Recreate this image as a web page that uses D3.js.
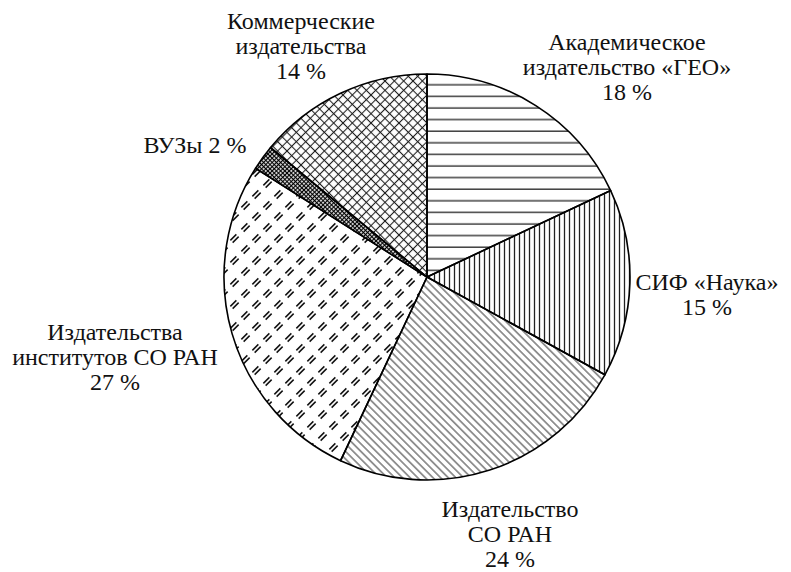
<!DOCTYPE html>
<html>
<head>
<meta charset="utf-8">
<script src="https://cdn.jsdelivr.net/npm/d3@7"></script>
<style>
  html, body { margin: 0; padding: 0; background: #fff; }
  svg { display: block; }
  .lbl { font-family: "Liberation Serif", "Times New Roman", serif; }
</style>
</head>
<body>
<svg id="chart" width="791" height="572"></svg>
<script>
// ---- data ----
const categories = [
  "Академическое издательство «ГЕО»",
  "СИФ «Наука»",
  "Издательство СО РАН",
  "Издательства институтов СО РАН",
  "ВУЗы",
  "Коммерческие издательства"
];
const values = [18, 15, 24, 27, 2, 14];
const labelLines = [
  ["Академическое", "издательство «ГЕО»", "18 %"],
  ["СИФ «Наука»", "15 %"],
  ["Издательство", "СО РАН", "24 %"],
  ["Издательства", "институтов СО РАН", "27 %"],
  ["ВУЗы 2 %"],
  ["Коммерческие", "издательства", "14 %"]
];

// ---- layout ----
const W = 791, H = 572;
const cx = 427, cy = 277, R = 203;
const lineH = 25;
// label anchor (center x, first baseline y)
const labelPos = [
  [627, 50],
  [707, 290],
  [510, 517],
  [115, 340],
  [195, 153],
  [301, 29]
];
const patternIds = ["horiz", "vert", "diag", "dashes", "checker", "cross"];

const svg = d3.select("#chart");
const defs = svg.append("defs");

// horizontal lines
const pH = defs.append("pattern").attr("id", "horiz").attr("patternUnits", "userSpaceOnUse")
  .attr("width", 10).attr("height", 11.6);
pH.append("line").attr("x1", 0).attr("x2", 10).attr("y1", 5).attr("y2", 5)
  .attr("stroke", "#222").attr("stroke-width", 1.3);

// vertical lines
const pV = defs.append("pattern").attr("id", "vert").attr("patternUnits", "userSpaceOnUse")
  .attr("width", 5).attr("height", 10);
pV.append("line").attr("x1", 2.5).attr("x2", 2.5).attr("y1", 0).attr("y2", 10)
  .attr("stroke", "#222").attr("stroke-width", 1.3);

// diagonal "\" lines
const pD = defs.append("pattern").attr("id", "diag").attr("patternUnits", "userSpaceOnUse")
  .attr("width", 5.4).attr("height", 10).attr("patternTransform", "rotate(-45)");
pD.append("line").attr("x1", 2.7).attr("x2", 2.7).attr("y1", 0).attr("y2", 10)
  .attr("stroke", "#333").attr("stroke-width", 1);

// crosshatch
const pC = defs.append("pattern").attr("id", "cross").attr("patternUnits", "userSpaceOnUse")
  .attr("width", 6.6).attr("height", 6.6).attr("patternTransform", "rotate(45)");
pC.append("line").attr("x1", 0).attr("x2", 6.6).attr("y1", 3.3).attr("y2", 3.3)
  .attr("stroke", "#222").attr("stroke-width", 1.1);
pC.append("line").attr("x1", 3.3).attr("x2", 3.3).attr("y1", 0).attr("y2", 6.6)
  .attr("stroke", "#222").attr("stroke-width", 1.1);

// fine checker
const pK = defs.append("pattern").attr("id", "checker").attr("patternUnits", "userSpaceOnUse")
  .attr("width", 3).attr("height", 3).attr("patternTransform", "rotate(45)");
pK.append("rect").attr("width", 3).attr("height", 3).attr("fill", "#fff");
pK.append("line").attr("x1", 0).attr("x2", 3).attr("y1", 1.5).attr("y2", 1.5)
  .attr("stroke", "#000").attr("stroke-width", 1.2);
pK.append("line").attr("x1", 1.5).attr("x2", 1.5).attr("y1", 0).attr("y2", 3)
  .attr("stroke", "#000").attr("stroke-width", 1.2);

// double-dash marks (sparse, staggered)
const pM = defs.append("pattern").attr("id", "dashes").attr("patternUnits", "userSpaceOnUse")
  .attr("width", 22).attr("height", 22);
const marks = [[5.5, 5.5], [16.5, 16.5], [16.5, 5.5]];
marks.slice(0, 2).forEach(([mx, my]) => {
  [-1.6, 1.6].forEach(o => {
    pM.append("line")
      .attr("x1", mx - 3 + o * 0.707).attr("y1", my + 3 + o * 0.707)
      .attr("x2", mx + 3 + o * 0.707).attr("y2", my - 3 + o * 0.707)
      .attr("stroke", "#111").attr("stroke-width", 1.5);
  });
});

// ---- pie ----
const pie = d3.pie().sort(null).value(d => d)(values);
const arc = d3.arc().innerRadius(0).outerRadius(R);

const g = svg.append("g").attr("transform", `translate(${cx},${cy})`);
g.selectAll("path.slice")
  .data(pie)
  .join("path")
  .attr("class", "slice")
  .attr("d", arc)
  .attr("fill", (d, i) => `url(#${patternIds[i]})`)
  .attr("stroke", "#000")
  .attr("stroke-width", 1.6)
  .attr("stroke-linejoin", "round");

// ---- labels ----
labelLines.forEach((lines, i) => {
  const t = svg.append("text").attr("class", "lbl").attr("text-anchor", "middle")
    .attr("font-size", 24).attr("fill", "#111")
    .attr("x", labelPos[i][0]).attr("y", labelPos[i][1]);
  lines.forEach((ln, j) => {
    t.append("tspan").attr("x", labelPos[i][0]).attr("dy", j === 0 ? 0 : lineH).text(ln);
  });
});
</script>
</body>
</html>
